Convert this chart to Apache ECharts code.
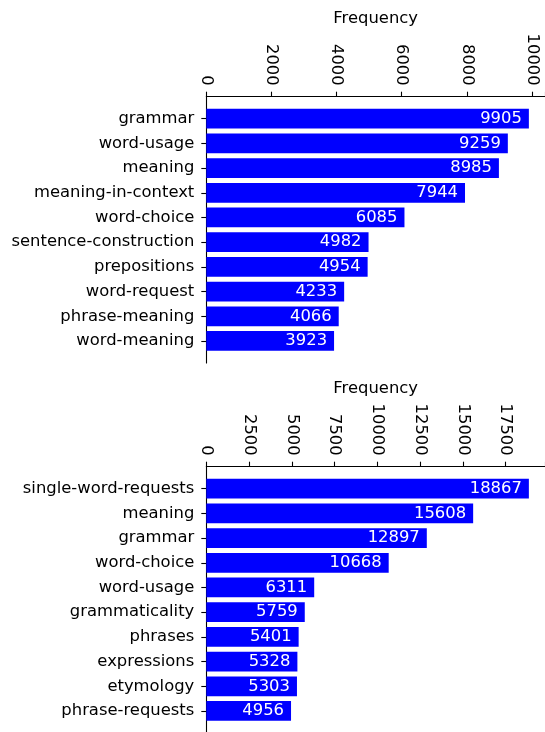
<!DOCTYPE html>
<html>
<head>
<meta charset="utf-8">
<script src="https://cdn.jsdelivr.net/npm/echarts@6/dist/echarts.min.js"></script>
<style>html,body{margin:0;padding:0;background:#fff}#c{width:545px;height:732px}</style>
</head>
<body>
<div id="c"></div>
<script>
const categoriesTop = ['grammar','word-usage','meaning','meaning-in-context','word-choice','sentence-construction','prepositions','word-request','phrase-meaning','word-meaning'];
const valuesTop = [9905,9259,8985,7944,6085,4982,4954,4233,4066,3923];
const categoriesBottom = ['single-word-requests','meaning','grammar','word-choice','word-usage','grammaticality','phrases','expressions','etymology','phrase-requests'];
const valuesBottom = [18867,15608,12897,10668,6311,5759,5401,5328,5303,4956];
const tickIntervalTop = 2000;
const tickIntervalBottom = 2500;

const FONT = 'DejaVu Sans';
const FS = 16.4;
const maxTop = Math.max(...valuesTop) * 1.05;
const maxBottom = Math.max(...valuesBottom) * 1.05;

const LEFT = 206.3, WIDTH = 341.7, BAND = 24.7;
const outerH = BAND * 10.78, innerOff = BAND * 0.39, innerH = BAND * 10;
const top1 = 96.7, top2 = 466.7;

function outerX(grid, max, interval) {
  return {
    type: 'value', gridIndex: grid, position: 'top', min: 0, max: max, interval: interval,
    name: 'Frequency', nameLocation: 'middle', nameGap: 70,
    nameTextStyle: { fontFamily: FONT, fontSize: FS, color: '#000' },
    axisLine: { show: true, onZero: false, lineStyle: { color: '#000', width: 1.1 } },
    axisTick: { show: true, length: 5, lineStyle: { color: '#000', width: 1.1 } },
    axisLabel: {
      rotate: 90, margin: 11, fontFamily: FONT, fontSize: FS, color: '#000',
      formatter: v => (v % interval === 0 ? String(v) : '')
    },
    splitLine: { show: false }
  };
}
function innerX(grid, max) {
  return { type: 'value', gridIndex: grid, min: 0, max: max, show: false, splitLine: { show: false } };
}
function spineY(grid) {
  return {
    type: 'value', gridIndex: grid, min: 0, max: 1, position: 'left',
    axisLine: { show: true, onZero: false, lineStyle: { color: '#000', width: 1.1 } },
    axisTick: { show: false }, axisLabel: { show: false }, splitLine: { show: false }
  };
}
function catY(grid, cats) {
  return {
    type: 'category', gridIndex: grid, data: cats, inverse: true, position: 'left',
    axisLine: { show: false },
    axisTick: { show: true, alignWithLabel: true, length: 5, lineStyle: { color: '#000', width: 1.1 } },
    axisLabel: { margin: 12, fontFamily: FONT, fontSize: FS, color: '#000' },
    splitLine: { show: false }
  };
}
function barSeries(xi, yi, vals) {
  return {
    type: 'bar', xAxisIndex: xi, yAxisIndex: yi, data: vals, barWidth: '80%',
    itemStyle: { color: '#0000ff' },
    label: { show: true, position: 'insideRight', distance: 7, color: '#fff', fontFamily: FONT, fontSize: FS },
    silent: true, animation: false
  };
}

const chart = echarts.init(document.getElementById('c'), null, { renderer: 'canvas' });
chart.setOption({
  animation: false,
  backgroundColor: '#fff',
  grid: [
    { left: LEFT, top: top1, width: WIDTH, height: outerH },
    { left: LEFT, top: top1 + innerOff, width: WIDTH, height: innerH },
    { left: LEFT, top: top2, width: WIDTH, height: outerH },
    { left: LEFT, top: top2 + innerOff, width: WIDTH, height: innerH }
  ],
  xAxis: [
    outerX(0, maxTop, tickIntervalTop),
    innerX(1, maxTop),
    outerX(2, maxBottom, tickIntervalBottom),
    innerX(3, maxBottom)
  ],
  yAxis: [
    spineY(0),
    catY(1, categoriesTop),
    spineY(2),
    catY(3, categoriesBottom)
  ],
  series: [
    barSeries(1, 1, valuesTop),
    barSeries(3, 3, valuesBottom)
  ]
});
</script>
</body>
</html>
